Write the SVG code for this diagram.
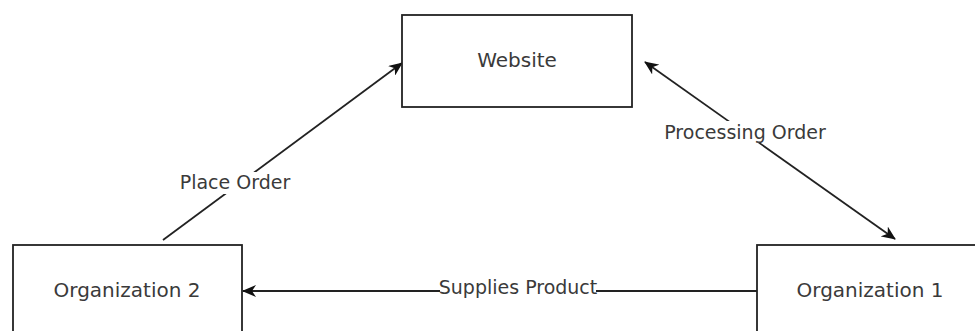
<svg xmlns="http://www.w3.org/2000/svg" width="975" height="331" viewBox="0 0 975 331">
<style>
.box{fill:#fff;stroke:#222;stroke-width:1.8}
.node{font-family:"DejaVu Sans",sans-serif;font-size:20px;fill:#3a3a3a;text-anchor:middle}
.lbl{font-family:"DejaVu Sans",sans-serif;font-size:19px;fill:#3a3a3a;text-anchor:middle}
.edge{fill:none;stroke:#222;stroke-width:1.8}
.bg{fill:#fff}
</style>
<defs>
<marker id="arr" viewBox="0 0 14 12" refX="13" refY="6" markerWidth="14" markerHeight="12" markerUnits="userSpaceOnUse" orient="auto-start-reverse">
<path d="M0,0 L14,6 L0,12 L4,6 Z" fill="#111"/>
</marker>
</defs>
<rect width="975" height="331" fill="#fff"/>
<g id="connectors">
<line class="edge" x1="163" y1="240" x2="402" y2="63" marker-end="url(#arr)"/>
<line class="edge" x1="645" y1="62" x2="895" y2="239" marker-start="url(#arr)" marker-end="url(#arr)"/>
<line class="edge" x1="757" y1="291" x2="243" y2="291" marker-end="url(#arr)"/>
<rect class="bg" x="178" y="172" width="114" height="22"/>
<text class="lbl" x="235" y="189">Place Order</text>
<rect class="bg" x="662" y="121" width="166" height="22"/>
<text class="lbl" x="745" y="138.5">Processing Order</text>
<rect class="bg" x="440" y="281" width="156" height="15"/>
<text class="lbl" x="518" y="294">Supplies Product</text>
</g>
<g id="website">
<rect class="box" x="402" y="15" width="230" height="92"/>
<text class="node" x="517" y="66.5">Website</text>
</g>
<g id="org2">
<rect class="box" x="13" y="245" width="229" height="100"/>
<text class="node" x="127" y="296.5">Organization 2</text>
</g>
<g id="org1">
<rect class="box" x="757" y="245" width="230" height="100"/>
<text class="node" x="870" y="296.5">Organization 1</text>
</g>
</svg>
